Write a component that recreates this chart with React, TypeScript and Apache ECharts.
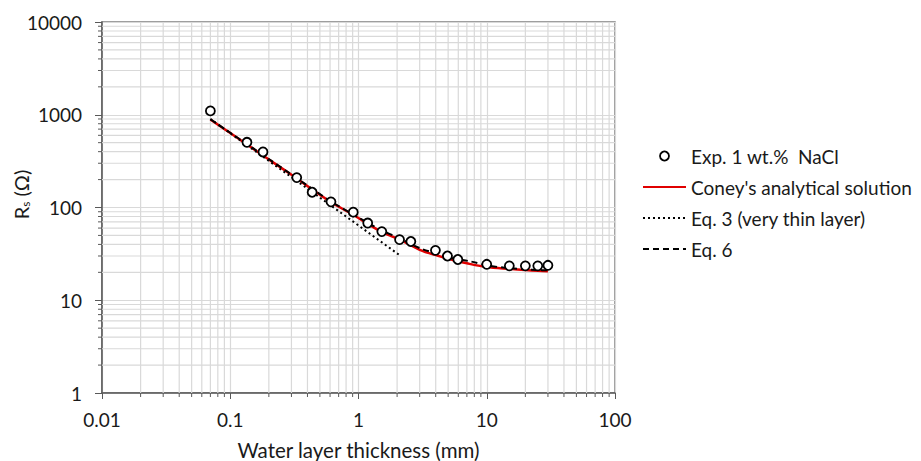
import React, { useEffect, useRef } from "react";
import * as echarts from "echarts";

// Experimental points: water layer thickness (mm) and measured Rs (Ω)
const EXP_THICKNESS = [0.07, 0.135, 0.18, 0.33, 0.435, 0.61, 0.91, 1.18, 1.52, 2.09, 2.56, 3.98, 4.94, 5.95, 10, 15, 20, 25, 30];
const EXP_RS = [1100, 505, 397, 210, 146, 115, 89, 68, 55, 45, 43, 34.5, 30, 27.5, 24.4, 23.5, 23.5, 23.5, 23.8];

// Coney's analytical solution
const CONEY_THICKNESS = [0.07, 0.1, 0.2, 0.3, 0.6, 0.9, 1.5, 2.1, 3, 3.6, 4, 5.5, 7, 10, 15, 20, 25, 30];
const CONEY_RS = [887, 635, 330, 225, 116, 84, 55, 45, 35, 32, 30.7, 27, 25, 22.8, 21.8, 21.2, 20.8, 20.6];

// Eq. 3 (very thin layer)
const EQ3_THICKNESS = [0.07, 0.2, 0.5, 1, 2.1];
const EQ3_RS = [900, 318, 128, 64, 30.5];

// Eq. 6
const EQ6_THICKNESS = [0.07, 0.1, 0.2, 0.3, 0.6, 1, 1.5, 2.1, 3, 4, 5.5, 7.4, 10, 13.5, 20, 25, 30];
const EQ6_RS = [895, 640, 333, 227, 118, 78, 57, 46.5, 36.5, 32, 28.3, 26.3, 23.8, 22.5, 21.6, 21.2, 21];

const X_TICK_LABELS = ["0.01", "0.1", "1", "10", "100"];
const Y_TICK_LABELS = ["1", "10", "100", "1000", "10000"];

const X_MIN = 0.01;
const X_MAX = 100;
const Y_MIN = 1;
const Y_MAX = 10000;

const SERIES_NAMES = ["Exp. 1 wt.%  NaCl", "Coney's analytical solution", "Eq. 3 (very thin layer)", "Eq. 6"];

const FONT = "Lato";
const TEXT_COLOR = "#1a1a1a";
const GRID_COLOR = "#d9d9d9";
const AXIS_COLOR = "#595959";

// 2..9 multiples inside each decade of a log range
function minorValues(min: number, max: number): number[] {
  const out: number[] = [];
  for (let e = Math.round(Math.log10(min)); e < Math.round(Math.log10(max)); e++) {
    for (let m = 2; m <= 9; m++) out.push(parseFloat((m * Math.pow(10, e)).toPrecision(6)));
  }
  return out;
}

const zip = (xs: number[], ys: number[]) => xs.map((x, i) => [x, ys[i]]);

export default function App() {
  const ref = useRef<HTMLDivElement>(null);

  useEffect(() => {
    if (!ref.current) return;
    const chart = echarts.init(ref.current, undefined, { renderer: "svg" });

    const xMinor = minorValues(X_MIN, X_MAX);
    const yMinor = minorValues(Y_MIN, Y_MAX);

    const hiddenSymbol = { opacity: 0 };

    const option: any = {
      animation: false,
      backgroundColor: "#ffffff",
      textStyle: { fontFamily: FONT, color: TEXT_COLOR },
      grid: {
        left: 102,
        top: 22,
        right: 306,
        bottom: 68,
        outerBoundsMode: "none",
        containLabel: false,
        show: true,
        borderColor: "#7f7f7f",
        borderWidth: 1.5,
        backgroundColor: "transparent",
      },
      legend: {
        orient: "vertical",
        left: 637,
        top: 141,
        padding: 5,
        itemWidth: 43,
        itemHeight: 9,
        itemGap: 11,
        textStyle: { fontFamily: FONT, fontSize: 19, lineHeight: 20, color: TEXT_COLOR },
        data: [
          { name: SERIES_NAMES[0], icon: "circle", itemStyle: { color: "#fff", borderColor: "#000", borderWidth: 1.8 } },
          { name: SERIES_NAMES[1], itemStyle: hiddenSymbol },
          { name: SERIES_NAMES[2], itemStyle: hiddenSymbol },
          { name: SERIES_NAMES[3], itemStyle: hiddenSymbol },
        ],
      },
      xAxis: {
        type: "log",
        logBase: 10,
        min: X_MIN,
        max: X_MAX,
        splitNumber: 4,
        name: "Water layer thickness (mm)",
        nameLocation: "middle",
        nameGap: 46,
        nameMoveOverlap: false,
        nameTextStyle: { fontFamily: FONT, fontSize: 20.5, lineHeight: 22, color: TEXT_COLOR },
        axisLine: { show: true, lineStyle: { color: AXIS_COLOR, width: 1.5 } },
        axisTick: { show: true, inside: false, length: 6, lineStyle: { color: AXIS_COLOR, width: 1 } },
        axisLabel: {
          fontFamily: FONT,
          fontSize: 19,
          color: TEXT_COLOR,
          margin: 17,
          formatter: (v: number) => X_TICK_LABELS[Math.round(Math.log10(v)) + 2] ?? "",
        },
        splitLine: { show: true, lineStyle: { color: GRID_COLOR, width: 1.2 } },
      },
      yAxis: {
        type: "log",
        logBase: 10,
        min: Y_MIN,
        max: Y_MAX,
        splitNumber: 4,
        name: "{a|R}{s|s}{a| (Ω)}",
        nameLocation: "middle",
        nameGap: 71,
        nameMoveOverlap: false,
        nameTextStyle: {
          padding: [0, 0, 0, 26],
          rich: {
            a: { fontFamily: FONT, fontSize: 20, color: TEXT_COLOR },
            s: { fontFamily: FONT, fontSize: 12, color: TEXT_COLOR, padding: [9, 0, 0, 0] },
          },
        },
        axisLine: { show: true, lineStyle: { color: AXIS_COLOR, width: 1.5 } },
        axisTick: { show: true, inside: false, length: 7, lineStyle: { color: AXIS_COLOR, width: 1 } },
        axisLabel: {
          fontFamily: FONT,
          fontSize: 19,
          color: TEXT_COLOR,
          margin: 20,
          formatter: (v: number) => Y_TICK_LABELS[Math.round(Math.log10(v))] ?? "",
        },
        splitLine: { show: true, lineStyle: { color: GRID_COLOR, width: 1.2 } },
      },
      series: [
        {
          // minor vertical grid lines and minor ticks on the x axis
          type: "custom",
          silent: true,
          clip: false,
          z: 1,
          data: xMinor.map((v) => [v, Y_MIN]),
          encode: { x: 0, y: 1 },
          renderItem: (_params: any, api: any) => {
            const v = api.value(0);
            const b = api.coord([v, Y_MIN]);
            const t = api.coord([v, Y_MAX]);
            return {
              type: "group",
              children: [
                { type: "line", shape: { x1: b[0], y1: b[1], x2: t[0], y2: t[1] }, style: { stroke: GRID_COLOR, lineWidth: 1.2 } },
                { type: "line", shape: { x1: b[0], y1: b[1], x2: b[0], y2: b[1] + 4 }, style: { stroke: AXIS_COLOR, lineWidth: 1 } },
              ],
            };
          },
        },
        {
          // minor horizontal grid lines and minor ticks on the y axis
          type: "custom",
          silent: true,
          clip: false,
          z: 1,
          data: yMinor.map((v) => [X_MIN, v]),
          encode: { x: 0, y: 1 },
          renderItem: (_params: any, api: any) => {
            const v = api.value(1);
            const l = api.coord([X_MIN, v]);
            const r = api.coord([X_MAX, v]);
            return {
              type: "group",
              children: [
                { type: "line", shape: { x1: l[0], y1: l[1], x2: r[0], y2: r[1] }, style: { stroke: GRID_COLOR, lineWidth: 1.2 } },
                { type: "line", shape: { x1: l[0] - 4, y1: l[1], x2: l[0], y2: l[1] }, style: { stroke: AXIS_COLOR, lineWidth: 1 } },
              ],
            };
          },
        },
        {
          name: SERIES_NAMES[1],
          type: "line",
          data: zip(CONEY_THICKNESS, CONEY_RS),
          symbol: "none",
          smooth: 0.3,
          z: 3,
          lineStyle: { color: "#e00000", width: 2.5 },
          itemStyle: { color: "#e00000" },
        },
        {
          name: SERIES_NAMES[2],
          type: "line",
          data: zip(EQ3_THICKNESS, EQ3_RS),
          symbol: "none",
          z: 4,
          lineStyle: { color: "#000", width: 2, type: [2, 3] },
          itemStyle: { color: "#000" },
        },
        {
          name: SERIES_NAMES[3],
          type: "line",
          data: zip(EQ6_THICKNESS, EQ6_RS),
          symbol: "none",
          smooth: 0.3,
          z: 4,
          lineStyle: { color: "#000", width: 2, type: [6, 4] },
          itemStyle: { color: "#000" },
        },
        {
          name: SERIES_NAMES[0],
          type: "scatter",
          data: zip(EXP_THICKNESS, EXP_RS),
          symbol: "circle",
          symbolSize: 9,
          z: 5,
          itemStyle: { color: "#fff", borderColor: "#000", borderWidth: 1.8, opacity: 1 },
        },
      ],
    };

    chart.setOption(option);
    return () => chart.dispose();
  }, []);

  return <div ref={ref} style={{ position: "absolute", left: 0, top: 0, width: 921, height: 461 }} />;
}
